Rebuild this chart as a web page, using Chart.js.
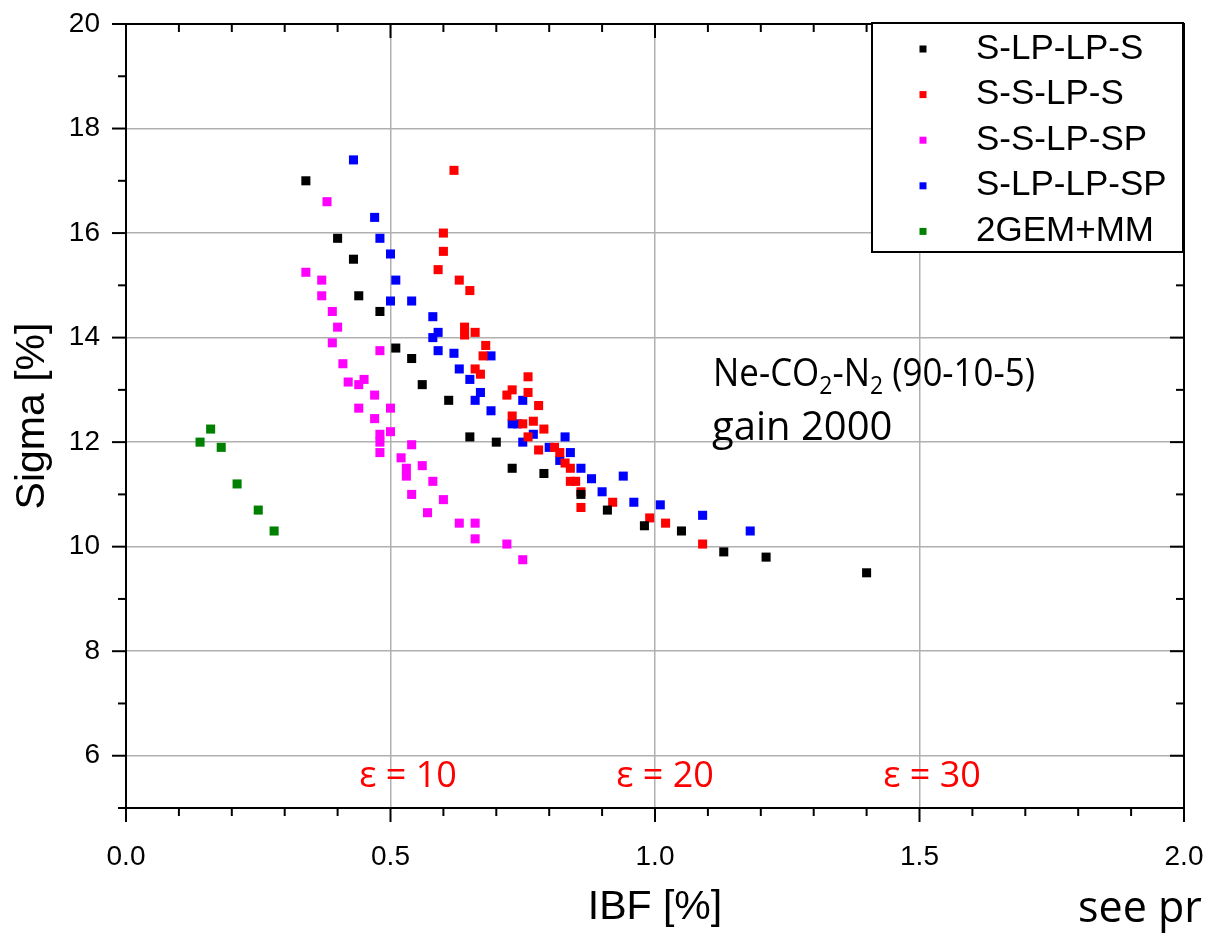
<!DOCTYPE html>
<html>
<head>
<meta charset="utf-8">
<script src="https://cdn.jsdelivr.net/npm/chart.js@4.4.0/dist/chart.umd.min.js"></script>
<style>
  html, body { margin: 0; padding: 0; background: #fff; }
</style>
</head>
<body>
<canvas id="graph" width="1210" height="933"></canvas>
<script>
// S-LP-LP-S
const ibfSLPLPS = [0.34, 0.40, 0.43, 0.44, 0.48, 0.51, 0.54, 0.56, 0.61, 0.65, 0.70, 0.73, 0.79, 0.86, 0.91, 0.98, 1.05, 1.13, 1.21, 1.40];
const sigmaSLPLPS = [17.0, 15.9, 15.5, 14.8, 14.5, 13.8, 13.6, 13.1, 12.8, 12.1, 12.0, 11.5, 11.4, 11.0, 10.7, 10.4, 10.3, 9.9, 9.8, 9.5];

// S-S-LP-S
const ibfSSLPS = [0.62, 0.60, 0.60, 0.59, 0.63, 0.65, 0.64, 0.64, 0.66, 0.68, 0.675, 0.66, 0.67, 0.76, 0.73, 0.72, 0.76, 0.78, 0.73, 0.75, 0.77, 0.79, 0.76, 0.78, 0.81, 0.82, 0.83, 0.84, 0.84, 0.85, 0.86, 0.86, 0.92, 0.99, 1.02, 1.09];
const sigmaSSLPS = [17.2, 16.0, 15.65, 15.3, 15.1, 14.9, 14.2, 14.05, 14.1, 13.85, 13.65, 13.4, 13.3, 13.25, 13.0, 12.9, 12.95, 12.7, 12.5, 12.35, 12.4, 12.25, 12.1, 11.85, 11.9, 11.8, 11.6, 11.5, 11.25, 11.25, 11.05, 10.75, 10.85, 10.55, 10.45, 10.05];

// S-S-LP-SP
const ibfSSLPSP = [0.38, 0.34, 0.37, 0.37, 0.39, 0.40, 0.39, 0.48, 0.41, 0.42, 0.44, 0.45, 0.47, 0.44, 0.50, 0.47, 0.48, 0.48, 0.48, 0.50, 0.54, 0.52, 0.53, 0.53, 0.54, 0.56, 0.58, 0.60, 0.57, 0.63, 0.66, 0.66, 0.72, 0.75];
const sigmaSSLPSP = [16.6, 15.25, 15.1, 14.8, 14.5, 14.2, 13.9, 13.75, 13.5, 13.15, 13.1, 13.2, 12.9, 12.65, 12.65, 12.45, 12.15, 12.0, 11.8, 12.2, 11.95, 11.7, 11.5, 11.35, 11.0, 11.55, 11.25, 10.9, 10.65, 10.45, 10.45, 10.15, 10.05, 9.75];

// S-LP-LP-SP
const ibfSLPLPSP = [0.43, 0.47, 0.48, 0.50, 0.51, 0.50, 0.54, 0.58, 0.59, 0.58, 0.59, 0.62, 0.69, 0.63, 0.65, 0.67, 0.66, 0.69, 0.75, 0.73, 0.74, 0.77, 0.75, 0.80, 0.83, 0.82, 0.84, 0.86, 0.88, 0.90, 0.94, 0.96, 1.01, 1.09, 1.18];
const sigmaSLPLPSP = [17.4, 16.3, 15.9, 15.6, 15.1, 14.7, 14.7, 14.4, 14.1, 14.0, 13.75, 13.7, 13.65, 13.4, 13.2, 12.95, 12.8, 12.6, 12.8, 12.35, 12.35, 12.15, 12.0, 11.9, 12.1, 11.65, 11.8, 11.5, 11.3, 11.05, 11.35, 10.85, 10.8, 10.6, 10.3];

// 2GEM+MM
const ibf2GEM = [0.14, 0.16, 0.18, 0.21, 0.25, 0.28];
const sigma2GEM = [12.0, 12.25, 11.9, 11.2, 10.7, 10.3];

const seriesNames = ['S-LP-LP-S', 'S-S-LP-S', 'S-S-LP-SP', 'S-LP-LP-SP', '2GEM+MM'];
const seriesColors = ['#000000', '#ff0000', '#ff00ff', '#0000ff', '#008000'];
const seriesX = [ibfSLPLPS, ibfSSLPS, ibfSSLPSP, ibfSLPLPSP, ibf2GEM];
const seriesY = [sigmaSLPLPS, sigmaSSLPS, sigmaSSLPSP, sigmaSLPLPSP, sigma2GEM];

const xTicks = [0, 0.5, 1.0, 1.5, 2.0];
const yTicks = [6, 8, 10, 12, 14, 16, 18, 20];

const epsTexts = ['ε = 10', 'ε = 20', 'ε = 30'];

function makePoints(xs, ys) {
    return xs.map((v, i) => ({ x: v, y: ys[i] }));
}

const datasets = seriesNames.map((name, i) => ({
    label: name,
    data: makePoints(seriesX[i], seriesY[i]),
    backgroundColor: seriesColors[i],
    borderColor: seriesColors[i],
    borderWidth: 0,
    pointStyle: 'rect',
    pointRadius: 6.4,
    pointHoverRadius: 6.4
}));

const tickFont = { family: '"Liberation Sans", Arial, sans-serif', size: 28 };
const titleFont = { family: '"Liberation Sans", Arial, sans-serif', size: 41 };

function noPad(s) {
    s.paddingTop = 0;
    s.paddingBottom = 0;
    s.paddingLeft = 0;
    s.paddingRight = 0;
}

// draws text segments (with subscripts) squeezed to a target width
function fitText(ctx, parts, x, base, width, size) {
    const big = size + 'px "Open Sans", sans-serif';
    const small = Math.round(size * 0.65) + 'px "Open Sans", sans-serif';
    let total = 0;
    parts.forEach(p => {
        ctx.font = p[1] ? small : big;
        total += ctx.measureText(p[0]).width;
    });
    const k = width ? width / total : 1;
    ctx.save();
    ctx.translate(x, base);
    ctx.scale(k, 1);
    let tx = 0;
    parts.forEach(p => {
        ctx.font = p[1] ? small : big;
        ctx.fillText(p[0], tx, p[1] ? size * 0.22 : 0);
        tx += ctx.measureText(p[0]).width;
    });
    ctx.restore();
}

// frame, minor ticks, texts, legend
const decor = {
    id: 'decor',
    afterDraw(chart) {
        const ctx = chart.ctx;
        const a = chart.chartArea;
        const xs = chart.scales.x;
        const ys = chart.scales.y;
        ctx.save();
        ctx.strokeStyle = '#000';
        ctx.lineWidth = 2;
        ctx.strokeRect(a.left, a.top, a.right - a.left, a.bottom - a.top);

        function line(x1, y1, x2, y2) {
            ctx.beginPath();
            ctx.moveTo(x1, y1);
            ctx.lineTo(x2, y2);
            ctx.stroke();
        }
        for (let k = 0; k <= 20; k++) {
            const v = k / 10;
            const len = k % 5 === 0 ? 14 : 8;
            const px = xs.getPixelForValue(v);
            line(px, a.bottom, px, a.bottom + len);
            line(px, a.top, px, a.top + len);
        }
        for (let v = 5; v <= 20; v++) {
            const len = v % 2 === 0 ? 14 : 8;
            const py = ys.getPixelForValue(v);
            line(a.left - len, py, a.left, py);
            line(a.right - len, py, a.right, py);
        }

        // gas text
        ctx.fillStyle = '#000';
        ctx.textBaseline = 'alphabetic';
        ctx.textAlign = 'left';
        fitText(ctx, [['Ne-CO', 0], ['2', 1], ['-N', 0], ['2', 1], [' (90-10-5)', 0]], 713, 386, 322, 38);
        fitText(ctx, [['gain 2000', 0]], 712, 440, 0, 40);

        // epsilon labels
        ctx.fillStyle = '#ff0000';
        ctx.font = '36px "Open Sans", sans-serif';
        ctx.textAlign = 'center';
        ctx.textBaseline = 'middle';
        ctx.fillText(epsTexts[0], 408, 777);
        ctx.fillText(epsTexts[1], 665, 777);
        ctx.fillText(epsTexts[2], 932, 777);

        // see pr
        ctx.fillStyle = '#000';
        ctx.textAlign = 'left';
        ctx.font = '43px "Open Sans", sans-serif';
        ctx.fillText('see pr', 1078, 910);

        // legend
        ctx.fillStyle = '#fff';
        ctx.fillRect(872, 23, 311, 229);
        ctx.strokeRect(872, 23, 311, 229);
        ctx.font = '35px "Liberation Sans", Arial, sans-serif';
        chart.data.datasets.forEach((ds, i) => {
            const ry = 49 + i * 45.6;
            ctx.fillStyle = ds.backgroundColor;
            ctx.fillRect(923 - 3.5, ry - 3.5, 7, 7);
            ctx.fillStyle = '#000';
            ctx.fillText(ds.label, 976, ry);
        });
        ctx.restore();
    }
};

const ctx = document.getElementById('graph').getContext('2d');
const chart = new Chart(ctx, {
    type: 'scatter',
    data: { datasets: datasets },
    options: {
        responsive: false,
        animation: false,
        layout: { padding: { top: 24, right: 26, left: 0, bottom: 0 } },
        plugins: {
            legend: { display: false },
            tooltip: { enabled: false }
        },
        scales: {
            x: {
                type: 'linear',
                min: 0,
                max: 2,
                afterBuildTicks: s => { s.ticks = xTicks.map(v => ({ value: v })); },
                afterFit: s => { s.height = 125; noPad(s); },
                grid: { color: '#b0b0b0', lineWidth: 1.5, drawTicks: false },
                border: { display: false },
                ticks: {
                    color: '#000',
                    font: tickFont,
                    padding: 32,
                    maxRotation: 0,
                    callback: v => Number(v).toFixed(1)
                },
                title: {
                    display: true,
                    text: 'IBF [%]',
                    color: '#000',
                    font: titleFont,
                    padding: { top: 0, bottom: 1 }
                }
            },
            y: {
                type: 'linear',
                min: 5,
                max: 20,
                afterBuildTicks: s => { s.ticks = yTicks.map(v => ({ value: v })); },
                afterFit: s => { s.width = 126; noPad(s); },
                grid: { color: '#b0b0b0', lineWidth: 1.5, drawTicks: false },
                border: { display: false },
                ticks: {
                    color: '#000',
                    font: tickFont,
                    padding: 26,
                    callback: v => String(v)
                },
                title: {
                    display: true,
                    text: 'Sigma [%]',
                    color: '#000',
                    font: titleFont,
                    padding: { top: 8, bottom: 0 }
                }
            }
        }
    },
    plugins: [decor]
});
</script>
</body>
</html>
